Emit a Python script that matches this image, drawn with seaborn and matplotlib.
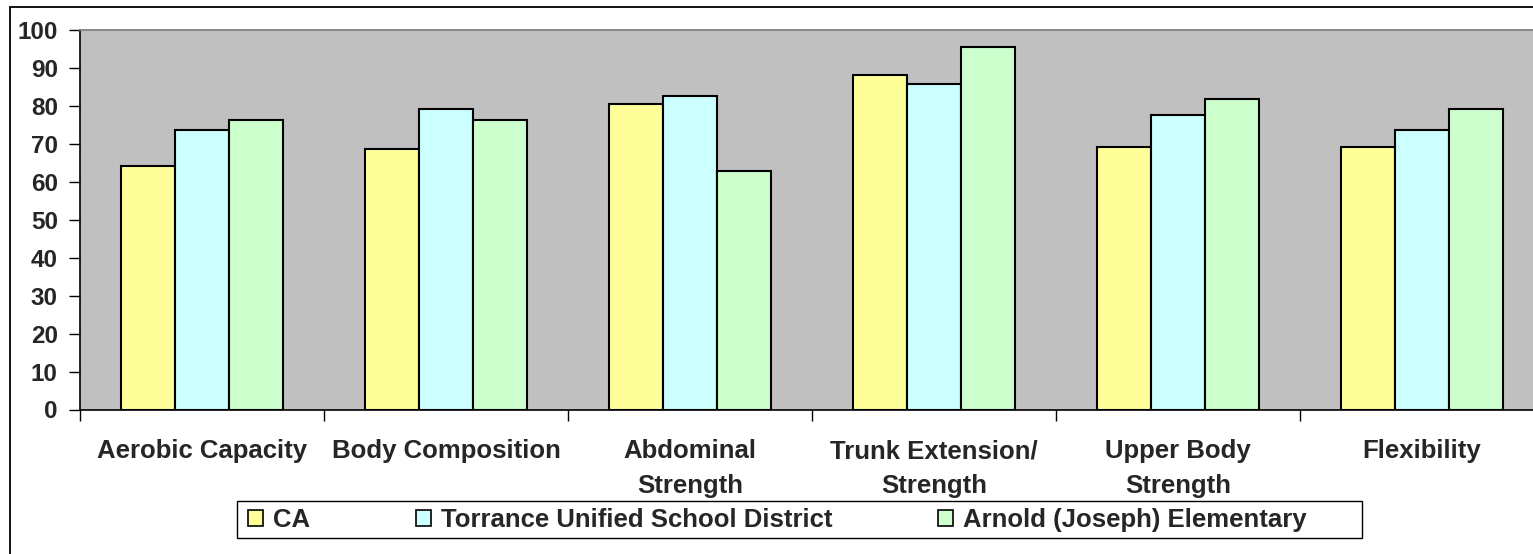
import matplotlib
matplotlib.use("Agg")
import matplotlib.pyplot as plt
import pandas as pd
import seaborn as sns
from matplotlib.patches import Rectangle, Patch
from matplotlib.ticker import FixedLocator

sns.set_theme(style="white")
plt.rcParams['font.family'] = ['Liberation Sans', 'DejaVu Sans']

categories = ['Aerobic Capacity', 'Body Composition', 'Abdominal\nStrength',
              'Trunk Extension/\nStrength', 'Upper Body\nStrength', 'Flexibility']
series = ['CA', 'Torrance Unified School District', 'Arnold (Joseph) Elementary']
ca = [64.2, 68.6, 80.5, 88.2, 69.3, 69.3]
torrance = [73.6, 79.1, 82.6, 85.8, 77.5, 73.6]
arnold = [76.3, 76.3, 62.8, 95.4, 81.8, 79.1]
colors = ['#FFFF99', '#CCFFFF', '#CCFFCC']

rows = []
for name, vals in zip(series, [ca, torrance, arnold]):
    for cat, v in zip(categories, vals):
        rows.append({'category': cat, 'series': name, 'value': v})
df = pd.DataFrame(rows)

W, H = 1533, 554
fig = plt.figure(figsize=(W / 100, H / 100), dpi=100)
ax = fig.add_axes([80 / W, 1 - 409.5 / H, 1464 / W, (409.5 - 30) / H])

sns.barplot(data=df, x='category', y='value', hue='series', order=categories,
            hue_order=series, palette=colors, width=0.665, edgecolor='black',
            linewidth=1.5, saturation=1, ax=ax, legend=False)

ax.set_facecolor('#C0C0C0')
ax.set_xlim(-0.5, 5.5)
ax.set_ylim(0, 100)
ax.set_yticks(range(0, 101, 10))
ax.set_xlabel('')
ax.set_ylabel('')
ax.tick_params(axis='y', which='major', length=8, width=1, color='black',
               labelsize=17.5, direction='out', left=True, pad=8)
ax.tick_params(axis='x', which='major', length=0, labelsize=18.5, pad=21.5)
ax.xaxis.set_minor_locator(FixedLocator([i - 0.5 for i in range(7)]))
ax.tick_params(axis='x', which='minor', length=8, width=1, color='black',
               direction='out', bottom=True)
for lab in ax.get_xticklabels():
    lab.set_fontweight('bold')
    lab.set_linespacing(1.55)
for lab in ax.get_yticklabels():
    lab.set_fontweight('bold')
ax.spines['left'].set_color('black')
ax.spines['bottom'].set_color('black')
ax.spines['left'].set_linewidth(1.2)
ax.spines['bottom'].set_linewidth(1.2)
ax.spines['top'].set_color('#808080')
ax.spines['right'].set_visible(False)

# chart border
fig.patches.append(Rectangle((9.5 / W, -0.2), 1.2, 0.2 + (H - 7) / H,
                             transform=fig.transFigure, fill=False,
                             edgecolor='black', linewidth=1.3))
# legend frame
fig.patches.append(Rectangle((237 / W, 1 - 538 / H), (1362 - 237) / W, 37 / H,
                             transform=fig.transFigure, fill=False,
                             edgecolor='black', linewidth=1.0))

handles = [Patch(facecolor=c, edgecolor='black', linewidth=1.2) for c in colors]
leg = fig.legend(handles, series, loc='center left', ncol=3,
                 bbox_to_anchor=(248 / W, 1 - 520 / H),
                 prop={'weight': 'bold', 'size': 18.5}, frameon=False,
                 handlelength=0.6, handleheight=0.6, handletextpad=0.38,
                 columnspacing=4.1, borderpad=0, borderaxespad=0)

fig.savefig('out.png', dpi=100, facecolor='white')
